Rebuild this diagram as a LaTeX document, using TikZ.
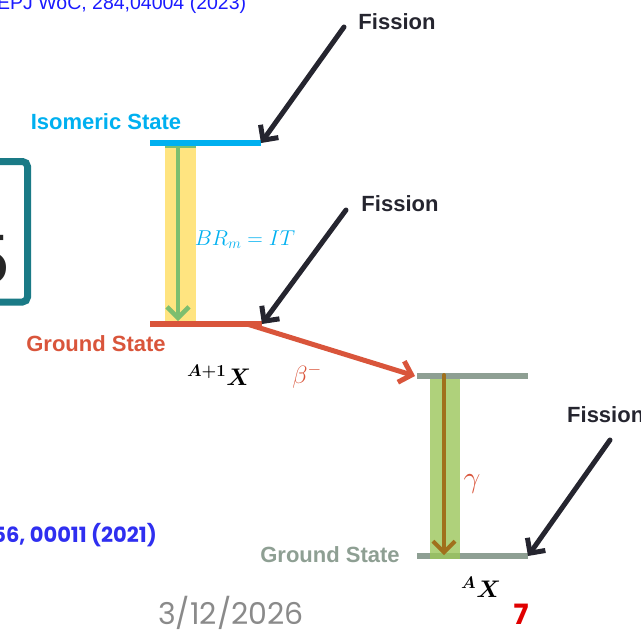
\RequirePackage{fix-cm}
\documentclass[tikz,border=0pt]{standalone}
\usepackage{fontspec}
\setmainfont{Liberation Sans}
\newfontfamily\pop{Poppins}
\usepackage{bm}
\usetikzlibrary{arrows.meta}
\definecolor{isoblue}{HTML}{00B0F0}
\definecolor{gsred}{HTML}{D9553B}
\definecolor{darkarr}{HTML}{25252F}
\definecolor{bandyel}{HTML}{FFE480}
\definecolor{arrgreen}{HTML}{7DBE6F}
\definecolor{levgray}{HTML}{8E9F93}
\definecolor{bandgreen}{HTML}{9BC65A}
\definecolor{gambrown}{HTML}{A0701C}
\definecolor{refblue}{HTML}{1A1AFF}
\definecolor{refblue2}{HTML}{2F2FF0}
\definecolor{dategray}{HTML}{8A8A8A}
\definecolor{sevenred}{HTML}{E00000}
\definecolor{teal}{HTML}{1A7A86}
\tikzset{
  lbl/.style={font=\fontsize{22}{26}\selectfont\bfseries, inner sep=0pt},
  mathlbl/.style={inner sep=0pt},
  barb/.style={-{Straight Barb[length=11pt,width=22pt]}, line cap=round},
  fissarrow/.style={barb, draw=darkarr, line width=5pt},
  level/.style={line width=6.5pt},
}
\begin{document}
\begin{tikzpicture}[x=1pt,y=-1pt]
\useasboundingbox (0,0) rectangle (641,635);
\clip (0,0) rectangle (641,635);

% coordinates of level ends
\coordinate (isoL) at (150,143);
\coordinate (isoR) at (261,143);
\coordinate (gsL) at (150,324);
\coordinate (gsR) at (262,324);
\coordinate (uL) at (417,376);
\coordinate (uR) at (528,376);
\coordinate (lL) at (417,556);
\coordinate (lR) at (528,556);

% references / slide decorations
\node[anchor=base west, inner sep=0pt, text=refblue, font=\fontsize{19.5}{22}\selectfont] (ref1) at (-3,9) {EPJ WoC, 284,04004 (2023)};
\node[anchor=east, inner sep=0pt, text=refblue2, font=\pop\fontsize{21}{24}\selectfont\bfseries] (ref2) at (157,535) {56, 00011 (2021)};
\node[inner sep=0pt, text=dategray, font=\pop\fontsize{30}{34}\selectfont] (date) at (231,613) {3/12/2026};
\node[inner sep=0pt, text=sevenred, font=\pop\fontsize{28}{32}\selectfont\bfseries] (page) at (521,614) {7};
\draw[teal, line width=7pt, rounded corners=5pt] (-60,161.5) rectangle (27.5,302);
\node[anchor=base east, inner sep=0pt, text=black!85, font=\fontsize{70}{74}\selectfont] (big) at (10,283) {5};

% bands
\fill[bandyel] (165,143) rectangle (196,322);
\fill[arrgreen] (165,144) rectangle (196,147.5);
\draw[barb, arrgreen, line width=4.5pt] (178,146) -- (178,321);

% levels
\draw[level, isoblue] (isoL) -- (isoR);
\draw[level, gsred] (gsL) -- (gsR);
\draw[level, levgray] (uL) -- (uR);
\draw[level, levgray] (lL) -- (lR);

\fill[bandgreen, opacity=0.8] (430,379) rectangle (460,559);
\draw[barb, gambrown, line width=4pt] (444,375) -- (444,555);

% beta decay
\coordinate (bstart) at (247,324);
\coordinate (bend) at (415,376);
\draw[barb, gsred, line width=5pt] (bstart) -- (bend);

% labels
\node[lbl, text=isoblue] (isolbl) at (106,122) {Isomeric State};
\node[lbl, text=gsred] (gslbl) at (96,344) {Ground State};
\node[lbl, text=levgray] (gs2lbl) at (330,555) {Ground State};
\node[lbl, text=darkarr] (fis1) at (397,22) {Fission};
\node[lbl, text=darkarr] (fis2) at (400,204) {Fission};
\node[lbl, text=darkarr, anchor=west] (fis3) at (567,415) {Fission};

\node[mathlbl, text=isoblue, font=\fontsize{21.5}{24}\selectfont] (br) at (245,240) {$BR_m = IT$};
\node[mathlbl, text=gsred, font=\fontsize{25}{28}\selectfont] (beta) at (307,376) {$\beta^-$};
\node[mathlbl, text=gsred, font=\fontsize{30}{32}\selectfont] (gam) at (472,484) {$\gamma$};
\node[mathlbl, font=\fontsize{24}{28}\selectfont] (nucA1) at (219,375) {$^{\bm{A+1}}\bm{X}$};
\node[mathlbl, font=\fontsize{24}{28}\selectfont] (nucA) at (481,587) {$^{\bm{A}}\bm{X}$};

% fission arrows
\coordinate (f1s) at (344,27);
\coordinate (f2s) at (346,210);
\coordinate (f3s) at (610,440);
\draw[fissarrow] (f1s) -- (isoR);
\draw[fissarrow] (f2s) -- (gsR);
\draw[fissarrow] (f3s) -- (lR);
\end{tikzpicture}
\end{document}
